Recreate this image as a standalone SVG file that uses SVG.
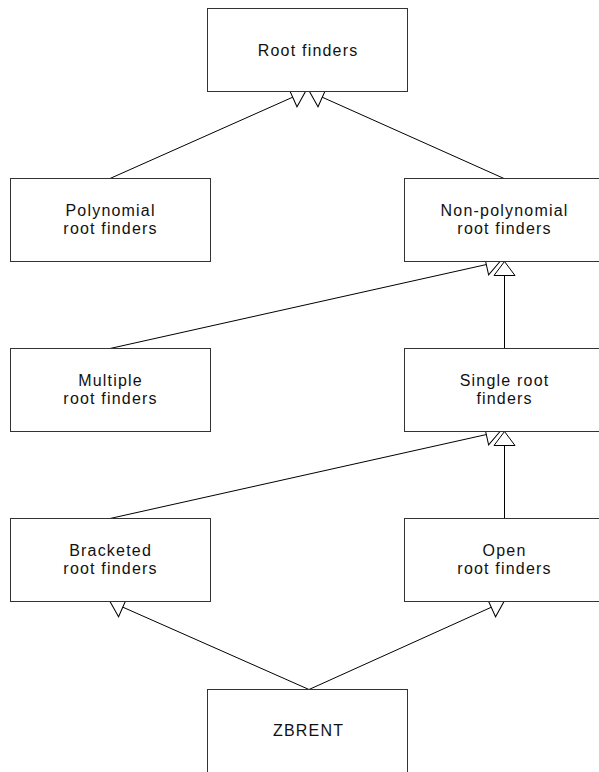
<svg xmlns="http://www.w3.org/2000/svg" width="599" height="772" viewBox="0 0 599 772">
<style>
.box{fill:#fff;stroke:#333;stroke-width:1}
.lbl{font-family:"Liberation Sans",Arial,sans-serif;font-size:16px;letter-spacing:1.2px;fill:#111;text-anchor:middle}
.edge{fill:none;stroke:#000;stroke-width:1;marker-end:url(#tri)}
</style>
<defs>
<marker id="tri" markerUnits="userSpaceOnUse" markerWidth="18" markerHeight="26" viewBox="-1 -13 18 26" refX="14" refY="0" orient="auto" overflow="visible">
<path d="M0,-10.5 L14,0 L0,10.5 Z" fill="#fff" stroke="#000" stroke-width="1"/>
</marker>
</defs>
<rect width="599" height="772" fill="#fff"/>
<g id="connectors">
<path class="edge" d="M110,178.5 L305.5,91.5"/>
<path class="edge" d="M504,178.5 L309.5,91.5"/>
<path class="edge" d="M110,348.5 L500,261.5"/>
<path class="edge" d="M504.5,348.5 L504.5,261.5"/>
<path class="edge" d="M110,518.5 L500,431.5"/>
<path class="edge" d="M504.5,518.5 L504.5,431.5"/>
<path class="edge" d="M309,689.5 L110,601.5"/>
<path class="edge" d="M309,689.5 L504,601.5"/>
</g>
<g id="root-finders">
<rect class="box" x="207.5" y="8.5" width="200" height="83"/>
<text class="lbl" x="308.1" y="56">Root finders</text>
</g>
<g id="polynomial">
<rect class="box" x="10.5" y="178.5" width="200" height="83"/>
<text class="lbl" x="110.6" y="216">Polynomial</text>
<text class="lbl" x="110.6" y="234">root finders</text>
</g>
<g id="non-polynomial">
<rect class="box" x="404.5" y="178.5" width="200" height="83"/>
<text class="lbl" x="504.6" y="216">Non-polynomial</text>
<text class="lbl" x="504.6" y="234">root finders</text>
</g>
<g id="multiple">
<rect class="box" x="10.5" y="348.5" width="200" height="83"/>
<text class="lbl" x="110.6" y="386">Multiple</text>
<text class="lbl" x="110.6" y="404">root finders</text>
</g>
<g id="single">
<rect class="box" x="404.5" y="348.5" width="200" height="83"/>
<text class="lbl" x="504.6" y="386">Single root</text>
<text class="lbl" x="504.6" y="404">finders</text>
</g>
<g id="bracketed">
<rect class="box" x="10.5" y="518.5" width="200" height="83"/>
<text class="lbl" x="110.6" y="556">Bracketed</text>
<text class="lbl" x="110.6" y="574">root finders</text>
</g>
<g id="open">
<rect class="box" x="404.5" y="518.5" width="200" height="83"/>
<text class="lbl" x="504.6" y="556">Open</text>
<text class="lbl" x="504.6" y="574">root finders</text>
</g>
<g id="zbrent">
<rect class="box" x="207.5" y="689.5" width="200" height="95"/>
<text class="lbl" x="308.6" y="736">ZBRENT</text>
</g>
</svg>
